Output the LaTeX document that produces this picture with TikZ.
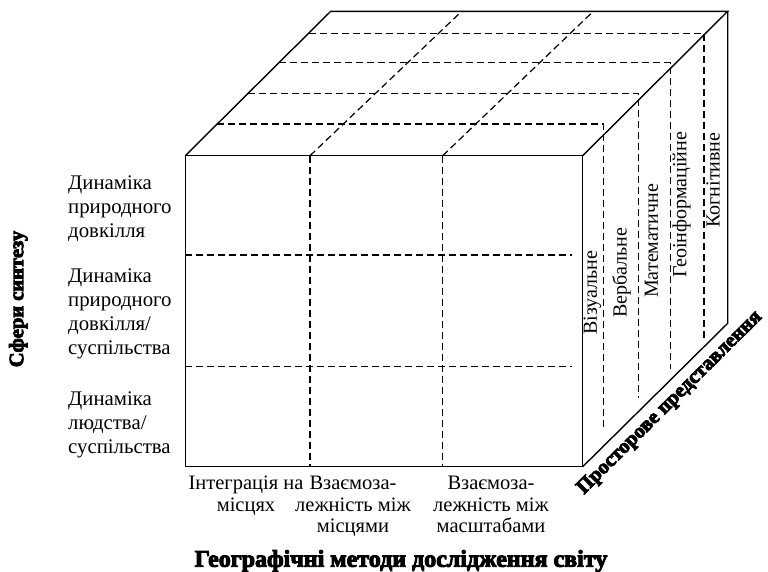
\documentclass[tikz,border=0pt]{standalone}
\usepackage{fontspec}
\setmainfont{Liberation Serif}
\newfontfamily\heavyfont[BoldFeatures={FakeBold=4}]{Liberation Serif}
\tikzset{
  edge/.style={line width=1.4pt, line join=miter},
  grid/.style={line width=1.2pt, dash pattern=on 7pt off 4pt},
  rowlab/.style={anchor=north west, align=left, inner sep=0pt, font=\fontsize{20.8}{24}\selectfont},
  collab/.style={anchor=north, align=center, inner sep=0pt, font=\fontsize{20.5}{21.5}\selectfont},
  sidelab/.style={rotate=90, anchor=west, inner sep=0pt, font=\fontsize{20}{24}\selectfont},
  axislab/.style={inner sep=0pt, font=\heavyfont\bfseries\fontsize{20.5}{22}\selectfont}
}
\begin{document}
\begin{tikzpicture}[x=1pt,y=-1pt]
  \useasboundingbox (0,0) rectangle (768,571);
  \coordinate (A) at (185.3,155.7);
  \coordinate (B) at (582.7,155.7);
  \coordinate (C) at (582.7,466.7);
  \coordinate (D) at (185.3,466.7);
  \coordinate (E) at (330.7,11.3);
  \coordinate (F) at (727.7,11.3);
  \coordinate (G) at (727.7,323.3);
  % front face grid
  \draw[grid] (310,155.7) -- (310,466.7);
  \draw[grid] (442.7,155.7) -- (442.7,466.7);
  \draw[grid] (185.3,255) -- (571.7,255);
  \draw[grid] (185.3,366.7) -- (571.7,366.7);
  % top face and right face grid
  \draw[grid] (310,155.7) -- (461.7,11.3);
  \draw[grid] (442.7,155.7) -- (593.3,11.3);
  \foreach \y/\xv/\yb in {33.3/704/338.3, 62.7/670.7/369.3, 93.3/638.7/398.3, 124/603.3/430}
    \draw[grid] ({185.3+(155.7-\y)*1.007},\y) -- (\xv,\y) -- (\xv,\yb);
  \draw[edge] (A) -- (B) -- (C) -- (D) -- cycle;
  \draw[edge] (A) -- (E) -- (F) -- (B);
  \draw[edge] (F) -- (G) -- (C);
  \node[rowlab] (r1) at (68,176) {Динаміка\\природного\\довкілля};
  \node[rowlab] (r2) at (68,268.6) {Динаміка\\природного\\довкілля/\\суспільства};
  \node[rowlab] (r3) at (68,392) {Динаміка\\людства/\\суспільства};
  \node[collab] (c1) at (246,476) {Інтеграція на\\місцях};
  \node[collab] (c2) at (353,476) {Взаємоза-\\лежність між\\місцями};
  \node[collab] (c3) at (491,476) {Взаємоза-\\лежність між\\масштабами};
  \node[sidelab] (s1) at (592.5,335) {Візуальне};
  \node[sidelab] (s2) at (621.5,318) {Вербальне};
  \node[sidelab] (s3) at (651.5,298) {Математичне};
  \node[sidelab] (s4) at (681.5,278) {Геоінформаційне};
  \node[sidelab] (s5) at (713,228) {Когнітивне};
  \node[axislab, rotate=90] (sph) at (18.3,299) {Сфери синтезу};
  \node[axislab, font=\heavyfont\bfseries\fontsize{24}{26}\selectfont] (geo) at (401,561) {Географічні методи дослідження світу};
  \node[axislab, font=\heavyfont\bfseries\fontsize{20.5}{24}\selectfont, rotate=44.8] (rep) at (670,403) {Просторове представлення};
\end{tikzpicture}
\end{document}
